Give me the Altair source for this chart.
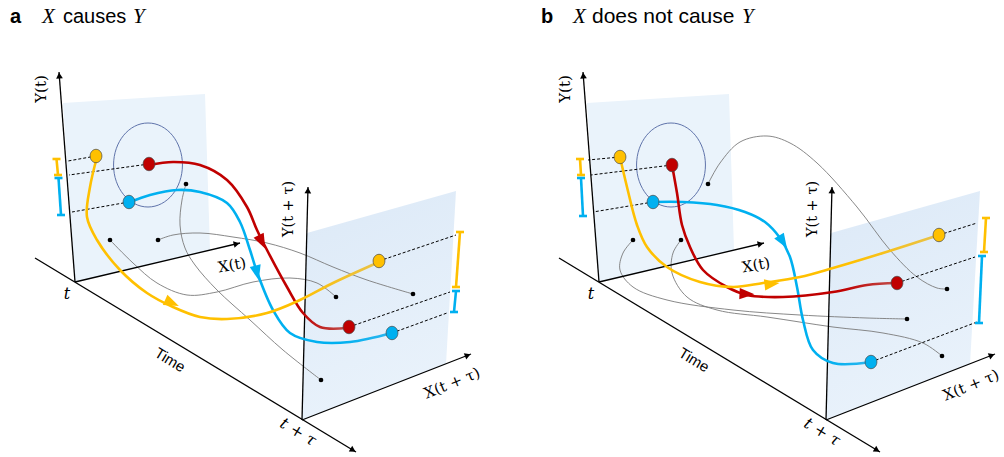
import math
import altair as alt
import pandas as pd

W, H = 1004, 457
OFF = 524  # horizontal shift of panel b's frame

# ---------------- frame (panel a coordinates, pixels) ----------------
LEFT_PLANE = [(63, 103), (205, 94), (210, 250), (75, 282)]
RIGHT_PLANE = [(307, 233), (456, 191), (446, 364), (302, 420)]
AXES = [
    ("Yt", (75, 282), (59, 72)),
    ("Xt", (75, 282), (240, 243)),
    ("time", (35, 258), (356, 452)),
    ("Ytt", (302, 420), (308, 187)),
    ("Xtt", (302, 420), (471, 354)),
]

# ---------------- panel a content ----------------
A_RED = [(149, 165), (173, 162), (200, 165), (227, 180), (247, 207), (257, 230), (267, 250),
         (287, 287), (303, 313), (320, 327), (347, 328)]
A_BLUE = [(130, 202), (150, 195), (177, 190), (200, 192), (227, 203), (240, 222), (250, 250),
          (257, 272), (273, 310), (290, 333), (317, 342), (350, 342), (392, 333)]
A_YELLOW = [(97, 157), (90, 187), (87, 217), (97, 240), (120, 270), (147, 293), (173, 307),
            (200, 317), (227, 319), (267, 313), (300, 300), (333, 283), (379, 262)]
A_GRAY1 = [(186, 184), (182, 200), (180, 225), (185, 248), (195, 265), (217, 290), (250, 320),
           (283, 350), (321, 380)]
A_GRAY2 = [(110, 240), (133, 263), (157, 283), (187, 295), (217, 292), (253, 282), (290, 278),
           (317, 283), (336, 297)]
A_GRAY3 = [(158, 240), (173, 235), (200, 233), (233, 237), (267, 243), (300, 253), (333, 267),
           (367, 280), (413, 294)]
A_ARROWS = [("red", (262, 242), (10, 20)), ("blue", (257, 273), (5, 20)), ("yellow", (172, 303), (27, 12))]
A_DOTS = [("yellow", 96, 156), ("red", 149, 164), ("blue", 129, 202),
          ("yellow", 379, 261), ("red", 349, 327), ("blue", 392, 333)]
A_BLACK = [(186, 184), (110, 240), (158, 240), (336, 297), (413, 294), (321, 380)]
A_DASH = [((96, 156), (68, 161)), ((149, 164), (69, 175)), ((129, 202), (72, 212)),
          ((379, 261), (456, 235)), ((349, 327), (450, 292)), ((392, 333), (447, 313))]
A_BARS = [("yellow", (56.5, 159), (58, 175)), ("blue", (58.5, 178), (61, 215)),
          ("yellow", (460, 232), (456, 287)), ("blue", (456, 291), (454, 312))]
A_RING = (148, 165)

# ---------------- panel b content ----------------
B_RED = [(672, 165), (677, 193), (682, 225), (690, 247), (703, 270), (727, 287), (747, 295),
         (783, 297), (833, 292), (867, 285), (897, 283)]
B_BLUE = [(653, 202), (683, 202), (717, 205), (745, 212), (765, 222), (780, 238), (790, 257),
          (797, 287), (803, 320), (813, 350), (833, 363), (871, 362)]
B_YELLOW = [(620, 157), (627, 187), (637, 225), (647, 247), (667, 267), (700, 282), (733, 287),
            (763, 283), (800, 277), (833, 268), (883, 253), (939, 235)]
B_GRAY1 = [(708, 184), (720, 163), (740, 142), (767, 136), (790, 143), (817, 163), (857, 207),
           (890, 250), (917, 277), (937, 288), (947, 289)]
B_GRAY2 = [(633, 240), (623, 253), (620, 270), (633, 287), (667, 300), (733, 310), (800, 315),
           (867, 318), (907, 319)]
B_GRAY3 = [(681, 240), (673, 253), (672, 273), (687, 297), (717, 310), (767, 317), (833, 327),
           (883, 333), (923, 343), (942, 356)]
B_ARROWS = [("red", (747, 294), (1, 0.05)), ("blue", (783, 242), (1, 1.6)), ("yellow", (772, 284), (1, -0.12))]
B_DOTS = [("yellow", 620, 157), ("red", 672, 165), ("blue", 653, 202),
          ("yellow", 939, 235), ("red", 897, 283), ("blue", 871, 362)]
B_BLACK = [(708, 184), (633, 240), (681, 240), (947, 289), (907, 319), (942, 356)]
B_DASH = [((620, 157), (588, 160)), ((672, 165), (591, 175)), ((653, 202), (593, 212)),
          ((939, 235), (977, 223)), ((897, 283), (975, 257)), ((871, 362), (977, 322))]
B_BARS = [("yellow", (580, 159), (581, 175)), ("blue", (581, 178), (583, 216)),
          ("yellow", (986, 218), (984, 252)), ("blue", (982, 256), (979, 323))]
B_RING = (671, 165)

COLORS = {"yellow": "#FFC000", "red": "#C00000", "blue": "#00B0F0"}
# colour each curve fades to as it nears the later plane (fraction of its width where fading starts)
FADE = {"yellow": ("#E8C24A", 0.72), "red": ("#C0504D", 0.76), "blue": ("#2DB6EE", 0.8)}

SERIF = "DejaVu Serif"
SANS = "Liberation Sans"
# text, x, y, angle, font, size, style, weight, align
TEXTS = [
    ("a", 10, 23, 0, SANS, 20, "normal", "bold", "left"),
    ("X", 42, 23, 0, "Liberation Serif", 21, "italic", "normal", "left"),
    ("causes", 63, 23, 0, SANS, 20, "normal", "normal", "left"),
    ("Y", 133, 23, 0, "Liberation Serif", 21, "italic", "normal", "left"),
    ("b", 541, 23, 0, SANS, 20, "normal", "bold", "left"),
    ("X", 573, 23, 0, "Liberation Serif", 21, "italic", "normal", "left"),
    ("does not cause", 592, 23, 0, SANS, 21, "normal", "normal", "left"),
    ("Y", 742, 23, 0, "Liberation Serif", 21, "italic", "normal", "left"),
]
FRAME_TEXTS = [
    ("Y(t)", 41, 89, 270, SERIF, 15, "normal", "normal", "center"),
    ("X(t)", 232, 265, 350, SERIF, 15, "normal", "normal", "center"),
    ("t", 67, 294, 0, SERIF, 16, "italic", "normal", "center"),
    ("Time", 170, 360, 31, SANS, 15, "normal", "normal", "center"),
    ("t + τ", 298, 432, 31, SERIF, 16, "italic", "normal", "center"),
    ("Y(t + τ)", 289, 209, 270, SERIF, 14.5, "normal", "normal", "center"),
    ("X(t + τ)", 452, 383, 338, SERIF, 15, "normal", "normal", "center"),
]
# panel b's X(t + τ) sits against the right edge; nudge it inward so it stays whole
TEXT_NUDGE_B = {"X(t + τ)": (-5, 2)}

# ---------------- build tables ----------------
def sh(p, dx):
    return (p[0] + dx, p[1])

planes, axis_rows, axis_heads = [], [], []
for pi, dx in enumerate([0, OFF]):
    for k, (px, py) in enumerate(LEFT_PLANE):
        planes.append(dict(id=f"L{pi}", kind="left", i=k, x=px + dx, y=py))
    for k, (px, py) in enumerate(RIGHT_PLANE):
        planes.append(dict(id=f"R{pi}", kind="right", i=k, x=px + dx, y=py))
    for name, s, e in AXES:
        s2, e2 = sh(s, dx), sh(e, dx)
        axis_rows.append(dict(id=f"{name}{pi}", i=0, x=s2[0], y=s2[1]))
        axis_rows.append(dict(id=f"{name}{pi}", i=1, x=e2[0], y=e2[1]))
        vx, vy = e2[0] - s2[0], e2[1] - s2[1]
        n = math.hypot(vx, vy)
        ux, uy = vx / n, vy / n
        ang = math.degrees(math.atan2(ux, -uy)) % 360
        axis_heads.append(dict(x=e2[0] - 3.5 * ux, y=e2[1] - 3.5 * uy, ang=ang))
    for t in FRAME_TEXTS:
        nx, ny = TEXT_NUDGE_B.get(t[0], (0, 0)) if pi == 1 else (0, 0)
        TEXTS.append((t[0], t[1] + dx + nx, t[2] + ny) + t[3:])

curves, grays, heads, dots, blacks, dashes, bars, rings = [], [], [], [], [], [], [], []
for tag, red, blue, yel, g1, g2, g3, arr, dd, bk, ds, br, rg in [
    ("a", A_RED, A_BLUE, A_YELLOW, A_GRAY1, A_GRAY2, A_GRAY3, A_ARROWS, A_DOTS, A_BLACK, A_DASH, A_BARS, A_RING),
    ("b", B_RED, B_BLUE, B_YELLOW, B_GRAY1, B_GRAY2, B_GRAY3, B_ARROWS, B_DOTS, B_BLACK, B_DASH, B_BARS, B_RING),
]:
    for col, pts in [("yellow", yel), ("blue", blue), ("red", red)]:
        for k, (px, py) in enumerate(pts):
            curves.append(dict(id=tag + col, c=col, i=k, x=px, y=py))
    for gi, pts in enumerate([g1, g2, g3]):
        for k, (px, py) in enumerate(pts):
            grays.append(dict(id=f"{tag}g{gi}", i=k, x=px, y=py))
    for col, (px, py), (vx, vy) in arr:
        ang = math.degrees(math.atan2(vx, -vy)) % 360
        heads.append(dict(c=col, x=px, y=py, ang=ang))
    for col, px, py in dd:
        dots.append(dict(c=col, x=px, y=py))
    for px, py in bk:
        blacks.append(dict(x=px, y=py))
    for k, (s, e) in enumerate(ds):
        dashes.append(dict(id=f"{tag}d{k}", i=0, x=s[0], y=s[1]))
        dashes.append(dict(id=f"{tag}d{k}", i=1, x=e[0], y=e[1]))
    for k, (col, s, e) in enumerate(br):
        bars.append(dict(id=f"{tag}b{k}v", c=col, i=0, x=s[0], y=s[1]))
        bars.append(dict(id=f"{tag}b{k}v", c=col, i=1, x=e[0], y=e[1]))
        for j, p in enumerate([s, e]):
            bars.append(dict(id=f"{tag}b{k}c{j}", c=col, i=0, x=p[0] - 4, y=p[1]))
            bars.append(dict(id=f"{tag}b{k}c{j}", c=col, i=1, x=p[0] + 4, y=p[1]))
    rings.append(dict(x=rg[0], y=rg[1]))

text_df = pd.DataFrame(TEXTS, columns=["t", "x", "y", "ang", "font", "size", "style", "weight", "align"])

XS = alt.Scale(domain=[0, W], nice=False, zero=False)
YS = alt.Scale(domain=[0, H], nice=False, zero=False, reverse=True)
cscale = alt.Scale(domain=list(COLORS.keys()), range=list(COLORS.values()))


def X():
    return alt.X("x:Q", scale=XS, axis=None)


def Y():
    return alt.Y("y:Q", scale=YS, axis=None)


pdf = pd.DataFrame(planes)
left_planes = alt.Chart(pdf[pdf.kind == "left"]).mark_line(
    interpolate="linear-closed", fill="#EAF3FB", strokeOpacity=0
).encode(x=X(), y=Y(), detail="id:N", order="i:Q")
right_planes = alt.Chart(pdf[pdf.kind == "right"]).mark_line(
    interpolate="linear-closed",
    fill=alt.Gradient(gradient="linear", x1=0, y1=0, x2=0.3, y2=1,
                      stops=[alt.GradientStop(color="#DCE9F7", offset=0),
                             alt.GradientStop(color="#E9F2FB", offset=1)]),
    strokeOpacity=0,
).encode(x=X(), y=Y(), detail="id:N", order="i:Q")

axes = alt.Chart(pd.DataFrame(axis_rows)).mark_line(color="black", strokeWidth=1.3).encode(
    x=X(), y=Y(), detail="id:N", order="i:Q")
axis_tri = alt.Chart(pd.DataFrame(axis_heads)).mark_point(
    shape="triangle-up", filled=True, color="black", size=45, opacity=1
).encode(x=X(), y=Y(), angle=alt.Angle("ang:Q", scale=None))

ring_shape = "M-0.82,0A0.82,1,0,1,0,0.82,0A0.82,1,0,1,0,-0.82,0Z"
ring = alt.Chart(pd.DataFrame(rings)).mark_point(
    shape=ring_shape, size=7056, filled=False, stroke="#4F64A0", strokeWidth=0.9, opacity=1
).encode(x=X(), y=Y())

dash = alt.Chart(pd.DataFrame(dashes)).mark_line(
    color="black", strokeWidth=1, strokeDash=[3, 2]).encode(x=X(), y=Y(), detail="id:N", order="i:Q")

gray = alt.Chart(pd.DataFrame(grays)).mark_line(
    color="#7A7A7A", strokeWidth=0.9, interpolate="catmull-rom").encode(
    x=X(), y=Y(), detail="id:N", order="i:Q")

cdf = pd.DataFrame(curves)
curve_layers = []
for cid, grp in cdf.groupby("id"):
    col = grp["c"].iloc[0]
    end_col, start = FADE[col]
    curve_layers.append(alt.Chart(grp).mark_line(
        strokeWidth=2.6, interpolate="catmull-rom",
        stroke=alt.Gradient(gradient="linear", x1=0, y1=0, x2=1, y2=0,
                            stops=[alt.GradientStop(color=COLORS[col], offset=0),
                                   alt.GradientStop(color=COLORS[col], offset=start),
                                   alt.GradientStop(color=end_col, offset=1)]),
    ).encode(x=X(), y=Y(), order="i:Q"))

arrow_shape = "M0,-1L0.75,1L-0.75,1Z"
head = alt.Chart(pd.DataFrame(heads)).mark_point(
    shape=arrow_shape, filled=True, size=225, opacity=1).encode(
    x=X(), y=Y(), angle=alt.Angle("ang:Q", scale=None),
    color=alt.Color("c:N", scale=cscale, legend=None))

bar = alt.Chart(pd.DataFrame(bars)).mark_line(strokeWidth=2.6).encode(
    x=X(), y=Y(), detail="id:N", order="i:Q",
    color=alt.Color("c:N", scale=cscale, legend=None))

black = alt.Chart(pd.DataFrame(blacks)).mark_circle(color="black", size=22, opacity=1).encode(x=X(), y=Y())

dot_shape = "M-0.88,0A0.88,1,0,1,0,0.88,0A0.88,1,0,1,0,-0.88,0Z"
dot = alt.Chart(pd.DataFrame(dots)).mark_point(
    shape=dot_shape, size=180, filled=True, stroke="#444444", strokeWidth=0.7, opacity=1).encode(
    x=X(), y=Y(), fill=alt.Fill("c:N", scale=cscale, legend=None))

texts = []
for (font, size, style, weight, align, ang), grp in text_df.groupby(
        ["font", "size", "style", "weight", "align", "ang"]):
    base = "alphabetic" if ang == 0 and grp["y"].max() < 30 else "middle"
    texts.append(alt.Chart(grp).mark_text(
        font=font, fontSize=float(size), fontStyle=style, fontWeight=weight, align=align,
        baseline=base, angle=float(ang), color="black").encode(x=X(), y=Y(), text="t:N"))

chart = alt.layer(
    left_planes, right_planes, gray, axes, axis_tri, ring, dash, *curve_layers, head, bar, black, dot, *texts
).properties(width=W, height=H, autosize=alt.AutoSizeParams(type="none"), padding=0
).configure_view(stroke=None)

chart.save("out.html", embed_options={"renderer": "svg", "actions": False})
